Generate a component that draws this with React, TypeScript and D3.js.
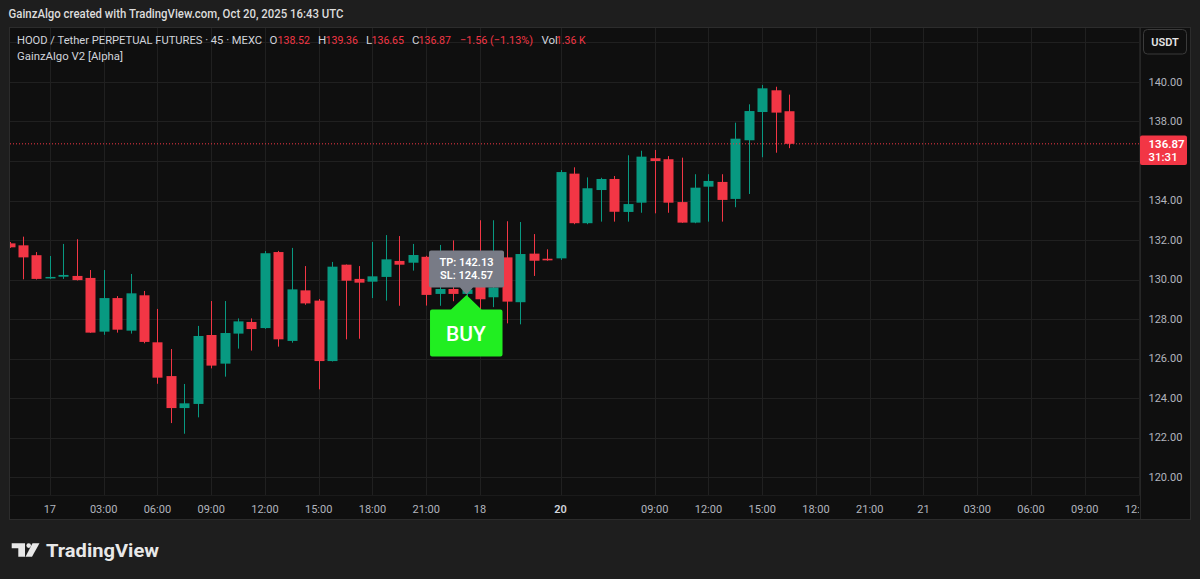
import React from 'react';
import * as d3 from 'd3';

// 45m candles, HOOD / USDT perp (left to right)
const opens = [
  131.83, 131.73, 131.23, 130.06, 130.14, 130.18, 130.08, 127.36, 129.06, 127.41,
  129.20, 126.82, 125.11, 123.49, 123.70, 127.19, 125.74, 127.26, 127.85, 127.54,
  131.39, 126.89, 129.45, 128.93, 125.87, 130.75, 130.03, 129.89, 130.13, 130.94,
  130.85, 131.15, 129.27, 129.52, 129.27, 129.80, 129.10, 131.12, 128.85, 131.31,
  131.05, 131.07, 135.36, 132.85, 134.53, 135.09, 133.42, 133.89, 136.14, 136.09,
  133.92, 132.88, 134.70, 134.94, 134.08, 137.05, 138.48, 139.58, 138.52,
];
const highs = [
  131.90, 132.17, 131.39, 131.19, 131.80, 132.04, 130.48, 130.48, 129.16, 130.28,
  129.42, 128.51, 126.48, 124.71, 127.65, 128.91, 128.91, 128.03, 128.03, 131.44,
  131.45, 131.60, 130.68, 129.01, 130.89, 130.76, 130.68, 131.90, 132.25, 132.20,
  131.80, 131.20, 131.75, 131.98, 130.00, 133.00, 133.00, 132.95, 132.91, 132.30,
  131.53, 135.54, 135.68, 135.17, 135.15, 135.24, 136.29, 136.52, 136.56, 136.25,
  136.17, 135.33, 135.33, 135.33, 137.94, 138.87, 139.85, 139.76, 139.36,
];
const lows = [
  131.60, 130.01, 130.00, 130.03, 130.03, 129.95, 127.30, 127.20, 127.31, 127.26,
  126.77, 124.72, 122.73, 122.19, 123.02, 125.50, 125.08, 126.50, 126.40, 127.50,
  126.60, 126.80, 128.72, 124.44, 125.85, 126.97, 127.00, 129.06, 128.93, 128.67,
  130.45, 128.68, 128.67, 128.90, 128.90, 128.30, 128.60, 127.78, 127.73, 130.18,
  130.95, 130.99, 132.80, 132.80, 132.93, 132.93, 132.93, 133.38, 133.35, 133.38,
  132.87, 132.85, 132.93, 132.93, 133.66, 134.33, 136.19, 136.42, 136.65,
];
const closes = [
  131.63, 131.12, 130.03, 130.13, 130.23, 129.97, 127.31, 129.06, 127.46, 129.30,
  126.84, 125.03, 123.49, 123.73, 127.14, 125.64, 127.29, 127.88, 127.49, 131.33,
  126.97, 129.50, 128.79, 125.87, 130.65, 129.94, 129.84, 130.16, 131.02, 130.75,
  131.24, 129.22, 129.52, 129.27, 129.49, 129.00, 129.60, 128.88, 131.29, 130.95,
  130.97, 135.44, 132.85, 134.62, 135.09, 133.43, 133.82, 136.22, 136.00, 133.89,
  132.88, 134.65, 134.99, 134.03, 137.13, 138.53, 139.68, 138.45, 136.87,
];

// time axis: bar index -> label
const timeTickIdx = [3, 7, 11, 15, 19, 23, 27, 31, 35, 41, 48, 52, 56, 60, 64, 68, 72, 76, 80, 84];
const timeTickLabels = ['17', '03:00', '06:00', '09:00', '12:00', '15:00', '18:00', '21:00', '18', '20',
  '09:00', '12:00', '15:00', '18:00', '21:00', '21', '03:00', '06:00', '09:00', '12:00'];
const boldLabels = ['20'];

const priceTicks = [120, 122, 124, 126, 128, 130, 132, 134, 136, 138, 140];
const gridPrices = [118, 120, 122, 124, 126, 128, 130, 132, 134, 136, 138, 140, 142];

const lastPrice = 136.87;
const countdown = '31:31';
const signalIdx = 34;
const tpLabel = 'TP: 142.13';
const slLabel = 'SL: 124.57';

const UP = '#089981';
const DOWN = '#F23645';
const FONT = 'Roboto, "Noto Sans", sans-serif';

const W = 1200;
const H = 579;
const plot = { left: 10, right: 1140, top: 28, bottom: 495 };

export default function App() {
  const x = d3.scaleLinear().domain([0, 84]).range([9.56, 1138.52]);
  const y = d3.scaleLinear().domain([120, 140]).range([477, 82]);
  const bodyW = 10;
  const sig = x(signalIdx);
  const lastY = y(lastPrice);

  return (
    <div style={{ position: 'absolute', left: 0, top: 0 }}>
      <svg width={W} height={H} style={{ display: 'block', fontFamily: FONT }}>
        <defs>
          <clipPath id="plot-clip">
            <rect x={plot.left} y={plot.top} width={plot.right - plot.left} height={plot.bottom - plot.top} />
          </clipPath>
          <clipPath id="time-clip">
            <rect x={plot.left} y={plot.bottom} width={plot.right - plot.left - 1} height={30} />
          </clipPath>
        </defs>
        <rect width={W} height={H} fill="#1e1e1e" />

        <text x={8.5} y={14} dy="0.35em" fill="#dcdcdc" fontSize={12} fontWeight={500}
          textLength={335} lengthAdjust="spacingAndGlyphs">
          GainzAlgo created with TradingView.com, Oct 20, 2025 16:43 UTC
        </text>

        {/* chart panel */}
        <rect x={9.5} y={27.5} width={1181} height={492} fill="#0f0f0f" stroke="#2c2c2c" />

        {/* grid */}
        <g stroke="#202020" strokeWidth={1} clipPath="url(#plot-clip)">
          {gridPrices.map(p => (
            <line key={p} x1={plot.left} x2={plot.right} y1={Math.round(y(p)) + 0.5} y2={Math.round(y(p)) + 0.5} />
          ))}
          {timeTickIdx.map(i => (
            <line key={i} x1={Math.round(x(i)) + 0.5} x2={Math.round(x(i)) + 0.5} y1={plot.top} y2={plot.bottom} />
          ))}
        </g>

        {/* candles */}
        <g clipPath="url(#plot-clip)">
          {opens.map((o, i) => {
            const c = closes[i];
            const col = c >= o ? UP : DOWN;
            const cx = Math.round(x(i)) + 0.5;
            const top = y(Math.max(o, c));
            const h = Math.max(1.5, y(Math.min(o, c)) - top);
            return (
              <g key={i}>
                <line x1={cx} x2={cx} y1={y(highs[i])} y2={y(lows[i])} stroke={col} strokeWidth={1} />
                <rect x={cx - bodyW / 2} y={top} width={bodyW} height={h} fill={col} />
              </g>
            );
          })}
        </g>

        {/* last price line */}
        <line x1={plot.left} x2={plot.right} y1={lastY} y2={lastY} stroke={DOWN} strokeWidth={1} strokeDasharray="1 2" />

        {/* axes separators */}
        <line x1={plot.right + 0.5} x2={plot.right + 0.5} y1={28} y2={519} stroke="#262626" />
        <line x1={10} x2={plot.right} y1={plot.bottom + 0.5} y2={plot.bottom + 0.5} stroke="#1a1a1a" />

        {/* price axis */}
        <g fontSize={11} fill="#b2b5be">
          {priceTicks.filter(p => Math.abs(y(p) - lastY) > 18).map(p => (
            <text key={p} x={1148.5} y={y(p)} dy="0.35em">{p.toFixed(2)}</text>
          ))}
        </g>
        <rect x={1140} y={135.5} width={47} height={29.5} rx={2} fill={DOWN} />
        <text x={1148.5} y={144} dy="0.35em" fill="#fff" fontSize={11.5} fontWeight={600}>{lastPrice.toFixed(2)}</text>
        <text x={1148.5} y={156.5} dy="0.35em" fill="#fff" fontSize={11.5} fontWeight={500}>{countdown}</text>

        <rect x={1143.5} y={29.5} width={43} height={24.5} rx={4} fill="#0f0f0f" stroke="#3b3b3b" />
        <text x={1165} y={42} dy="0.35em" textAnchor="middle" fill="#e6e6e6" fontSize={11} fontWeight={600}>USDT</text>

        {/* time axis */}
        <g clipPath="url(#time-clip)" fontSize={11}>
          {timeTickIdx.map((i, k) => (
            <text key={i} x={x(i)} y={509} dy="0.35em" textAnchor="middle"
              fill={boldLabels.includes(timeTickLabels[k]) ? '#d1d4dc' : '#b2b5be'}
              fontWeight={boldLabels.includes(timeTickLabels[k]) ? 600 : 400}>
              {timeTickLabels[k]}
            </text>
          ))}
        </g>

        {/* legend */}
        <g fontSize={11.5}>
          <text x={17} y={40} dy="0.35em" fill="#d1d4dc" textLength={245} lengthAdjust="spacingAndGlyphs">
            HOOD / Tether PERPETUAL FUTURES · 45 · MEXC
          </text>
          <text x={269.5} y={40} dy="0.35em" fill="#d1d4dc">O</text>
          <text x={277.5} y={40} dy="0.35em" fill={DOWN} textLength={32.5} lengthAdjust="spacingAndGlyphs">{opens[58].toFixed(2)}</text>
          <text x={318} y={40} dy="0.35em" fill="#d1d4dc">H</text>
          <text x={325.5} y={40} dy="0.35em" fill={DOWN} textLength={32.5} lengthAdjust="spacingAndGlyphs">{highs[58].toFixed(2)}</text>
          <text x={366} y={40} dy="0.35em" fill="#d1d4dc">L</text>
          <text x={371.5} y={40} dy="0.35em" fill={DOWN} textLength={32.5} lengthAdjust="spacingAndGlyphs">{lows[58].toFixed(2)}</text>
          <text x={412} y={40} dy="0.35em" fill="#d1d4dc">C</text>
          <text x={418.5} y={40} dy="0.35em" fill={DOWN} textLength={32.5} lengthAdjust="spacingAndGlyphs">{closes[58].toFixed(2)}</text>
          <text x={460} y={40} dy="0.35em" fill={DOWN} textLength={73} lengthAdjust="spacingAndGlyphs">−1.56 (−1.13%)</text>
          <text x={541.5} y={40} dy="0.35em" fill="#d1d4dc">Vol</text>
          <text x={556} y={40} dy="0.35em" fill={DOWN} textLength={29.5} lengthAdjust="spacingAndGlyphs">1.36 K</text>
          <text x={17} y={56} dy="0.35em" fill="#d1d4dc" textLength={106} lengthAdjust="spacingAndGlyphs">GainzAlgo V2 [Alpha]</text>
        </g>

        {/* signal */}
        <path d={`M${sig - 35.5},${250.5} h71 a2,2 0 0 1 2,2 v33 a2,2 0 0 1 -2,2 h-29 l-6.5,7 l-6.5,-7 h-29 a2,2 0 0 1 -2,-2 v-33 a2,2 0 0 1 2,-2 z`}
          fill="#787b86" />
        <text x={sig} y={262} dy="0.35em" textAnchor="middle" fill="#fff" fontSize={11} fontWeight={600}>{tpLabel}</text>
        <text x={sig} y={275.5} dy="0.35em" textAnchor="middle" fill="#fff" fontSize={11} fontWeight={600}>{slLabel}</text>

        <path d={`M${sig - 34.5},309.5 H${sig - 15.5} L${sig},295 L${sig + 15},309.5 H${sig + 34} a2,2 0 0 1 2,2 V354.5 a2,2 0 0 1 -2,2 H${sig - 34.5} a2,2 0 0 1 -2,-2 V311.5 a2,2 0 0 1 2,-2 z`}
          fill="#21ee21" />
        <text x={sig - 0.5} y={333.5} dy="0.35em" textAnchor="middle" fill="#fff" fontSize={21} fontWeight={500}>BUY</text>

        {/* footer logo */}
        <g fill="#e8e8e8">
          <path d="M11.7,543.3 H25 V556.7 H18.3 V548.3 H11.7 Z" />
          <circle cx={28.7} cy={545.6} r={2.3} />
          <path d="M32.5,543.3 H39.5 L32,556.7 H25.5 Z" />
          <text x={46} y={556.5} fontSize={18.5} fontWeight={700} textLength={113} lengthAdjust="spacingAndGlyphs">TradingView</text>
        </g>
      </svg>
    </div>
  );
}
